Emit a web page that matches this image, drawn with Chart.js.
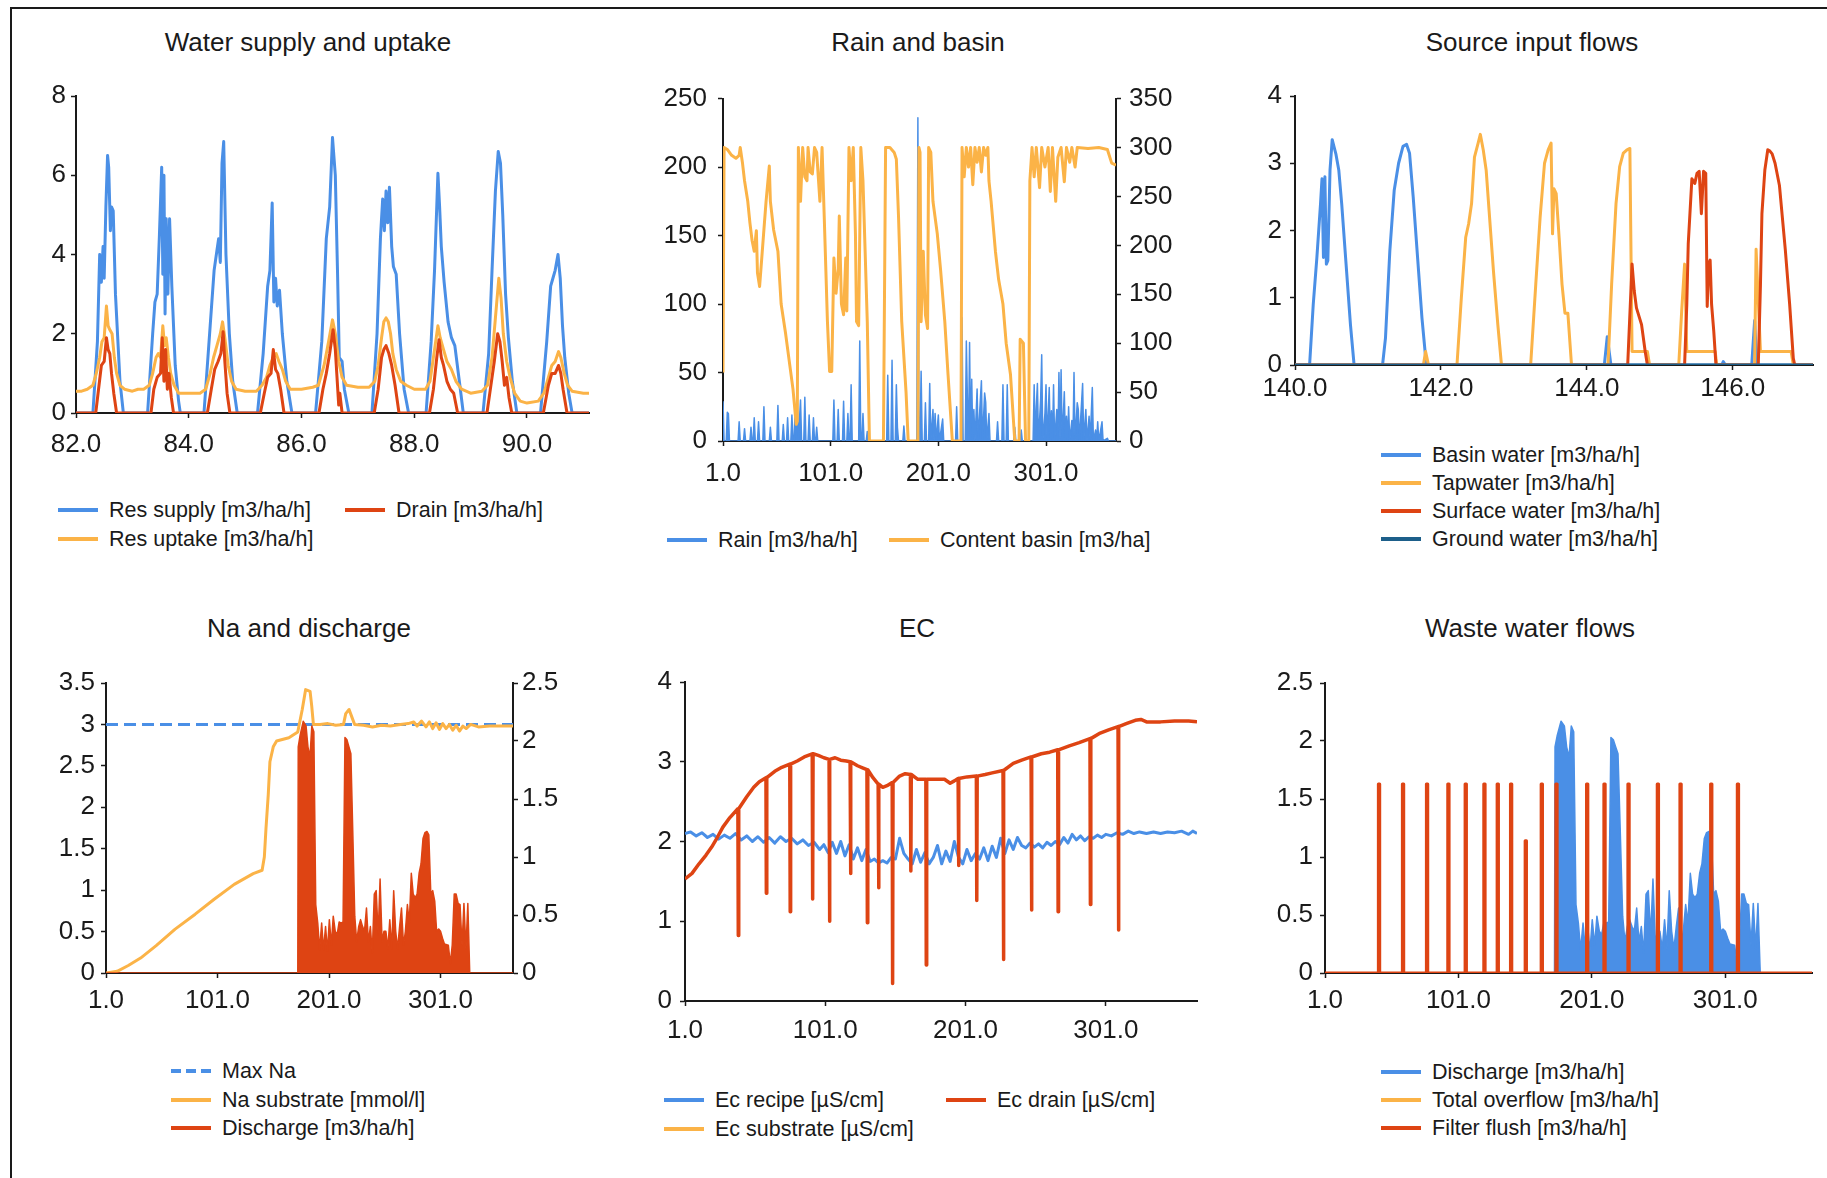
<!DOCTYPE html>
<html>
<head>
<meta charset="utf-8">
<title>Greenhouse water balance</title>
<script src="https://cdn.jsdelivr.net/npm/chart.js@4.4.1/dist/chart.umd.min.js"></script>
<style>
  html, body { margin: 0; padding: 0; background: #ffffff; }
  body { width: 1827px; height: 1178px; position: relative; overflow: hidden;
         font-family: "Liberation Sans", Arial, sans-serif; color: #1a1a1a; }
  .frame { position: absolute; left: 10px; top: 7px; right: -4px; bottom: -4px;
           border-left: 2px solid #1a1a1a; border-top: 2px solid #1a1a1a; }
  canvas { position: absolute; }
  .title { position: absolute; width: 600px; text-align: center; font-size: 26px;
           line-height: 30px; white-space: nowrap; color: #1a1a1a; }
  .lg-line { position: absolute; height: 4px; }
  .lg-text { position: absolute; font-size: 21.5px; line-height: 28px; white-space: nowrap; color: #1a1a1a; }
</style>
</head>
<body>
<div class="frame"></div>
<script>
const FONT = '"Liberation Sans", Arial, sans-serif';
const BLUE = '#4a8fe6', ORANGE = '#fbb347', RED = '#de4413', TEAL = '#1d5f8a';

// ---------- Water supply and uptake (day, m3/ha/h) ----------
const resSupply = [
  [82.00,0],[82.30,0],[82.38,1.8],[82.42,4.0],[82.45,3.3],[82.48,4.2],[82.50,3.4],[82.53,5.2],[82.56,6.5],[82.58,6.2],[82.61,4.6],[82.63,5.2],[82.66,5.1],[82.70,3.0],[82.78,0.8],[82.84,0],
  [83.27,0],[83.36,2.0],[83.40,2.8],[83.44,3.0],[83.48,4.5],[83.52,6.2],[83.54,3.5],[83.56,6.0],[83.58,2.5],[83.60,4.9],[83.63,3.0],[83.66,4.9],[83.70,3.2],[83.76,1.2],[83.82,0.3],[83.85,0],
  [84.27,0],[84.38,2.2],[84.45,3.6],[84.50,4.1],[84.53,4.4],[84.56,3.8],[84.59,6.3],[84.62,6.85],[84.66,4.0],[84.72,2.0],[84.78,0.8],[84.86,0],
  [85.22,0],[85.32,1.5],[85.40,3.2],[85.44,3.6],[85.48,5.3],[85.51,2.8],[85.54,3.4],[85.57,2.7],[85.61,3.1],[85.66,2.0],[85.74,0.8],[85.83,0],
  [86.25,0],[86.36,1.8],[86.44,4.4],[86.50,5.2],[86.55,6.95],[86.60,6.0],[86.64,3.5],[86.67,1.4],[86.72,1.3],[86.76,0.6],[86.84,0],
  [87.25,0],[87.34,2.0],[87.40,4.4],[87.44,5.4],[87.47,4.6],[87.50,5.6],[87.53,4.8],[87.56,5.7],[87.60,4.2],[87.63,3.7],[87.68,3.5],[87.74,2.0],[87.82,0.6],[87.90,0],
  [88.21,0],[88.30,1.8],[88.36,3.6],[88.42,6.05],[88.45,5.2],[88.48,4.2],[88.53,3.3],[88.60,2.3],[88.66,1.9],[88.72,1.7],[88.80,0.8],[88.87,0],
  [89.22,0],[89.32,1.5],[89.38,3.6],[89.44,5.6],[89.49,6.6],[89.53,6.3],[89.57,5.0],[89.62,3.0],[89.67,1.9],[89.74,0.8],[89.82,0],
  [90.24,0],[90.35,1.8],[90.42,3.2],[90.46,3.4],[90.50,3.6],[90.55,4.0],[90.59,3.4],[90.63,2.2],[90.67,1.4],[90.74,0.5],[90.80,0],[91.10,0]
];
const resUptake = [
  [82.00,0.55],[82.10,0.55],[82.20,0.6],[82.30,0.7],[82.36,1.0],[82.42,1.4],[82.46,1.8],[82.50,1.9],[82.54,2.7],[82.57,2.2],[82.60,2.1],[82.64,2.0],[82.68,1.4],[82.72,1.0],[82.78,0.7],[82.86,0.6],[83.00,0.55],[83.10,0.6],[83.20,0.6],[83.30,0.7],
  [83.36,1.0],[83.42,1.4],[83.46,1.5],[83.50,1.4],[83.54,2.2],[83.57,1.7],[83.60,1.9],[83.64,1.4],[83.68,1.0],[83.74,0.7],[83.82,0.5],[84.00,0.5],[84.20,0.5],[84.30,0.6],
  [84.38,1.0],[84.44,1.4],[84.50,1.7],[84.56,2.0],[84.60,2.3],[84.64,1.9],[84.70,1.2],[84.76,0.8],[84.84,0.6],[85.00,0.55],[85.20,0.55],[85.30,0.7],
  [85.38,0.9],[85.44,1.2],[85.50,1.4],[85.55,1.5],[85.60,1.3],[85.66,1.1],[85.72,0.8],[85.80,0.6],[86.00,0.6],[86.20,0.65],[86.30,0.7],
  [86.40,1.2],[86.48,1.8],[86.55,2.35],[86.60,2.0],[86.66,1.3],[86.72,0.9],[86.80,0.7],[87.00,0.65],[87.20,0.65],[87.30,0.8],
  [87.36,1.2],[87.42,1.9],[87.46,2.3],[87.50,2.4],[87.54,2.3],[87.58,2.0],[87.62,1.5],[87.68,1.1],[87.76,0.8],[87.86,0.7],[88.00,0.6],[88.20,0.6],[88.28,0.8],
  [88.36,1.6],[88.42,2.2],[88.46,1.9],[88.52,1.6],[88.58,1.3],[88.66,1.1],[88.74,0.8],[88.84,0.6],[89.00,0.5],[89.20,0.55],[89.30,0.7],
  [89.38,1.4],[89.44,2.4],[89.50,3.4],[89.54,2.9],[89.58,2.0],[89.64,1.3],[89.70,0.9],[89.78,0.5],[89.88,0.3],[90.00,0.25],[90.20,0.3],[90.30,0.5],
  [90.38,0.9],[90.44,1.2],[90.50,1.3],[90.56,1.55],[90.60,1.4],[90.66,1.0],[90.72,0.7],[90.80,0.55],[91.00,0.5],[91.10,0.5]
];
const drain = [
  [82.00,0],[82.35,0],[82.40,0.6],[82.45,1.2],[82.50,1.3],[82.54,1.9],[82.57,1.6],[82.60,1.5],[82.63,1.0],[82.67,0.5],[82.72,0],
  [83.33,0],[83.38,0.6],[83.44,0.9],[83.50,1.0],[83.53,1.9],[83.56,0.8],[83.59,1.6],[83.62,0.6],[83.65,1.0],[83.69,0.4],[83.73,0],
  [84.33,0],[84.40,0.6],[84.46,1.1],[84.52,1.3],[84.57,1.5],[84.61,2.05],[84.64,1.3],[84.68,0.5],[84.73,0],
  [85.27,0],[85.34,0.5],[85.40,0.9],[85.46,1.0],[85.50,1.6],[85.54,1.1],[85.58,1.0],[85.63,0.6],[85.69,0],
  [86.31,0],[86.38,0.6],[86.44,1.0],[86.50,1.5],[86.56,2.1],[86.60,1.6],[86.63,0.9],[86.66,0.2],[86.68,0.5],[86.72,0],
  [87.29,0],[87.36,0.6],[87.42,1.4],[87.46,1.6],[87.50,1.7],[87.55,1.5],[87.60,1.2],[87.66,0.7],[87.73,0],
  [88.27,0],[88.34,0.6],[88.40,1.4],[88.44,1.85],[88.48,1.4],[88.52,1.2],[88.58,0.8],[88.64,0.6],[88.70,0.5],[88.77,0],
  [89.29,0],[89.36,0.7],[89.42,1.3],[89.48,2.0],[89.52,1.8],[89.56,1.3],[89.60,0.7],[89.64,0.9],[89.68,0.4],[89.73,0],
  [90.29,0],[90.38,0.7],[90.44,1.0],[90.50,1.0],[90.56,1.2],[90.60,1.0],[90.64,0.6],[90.71,0],[91.10,0]
];

// ---------- Rain and basin (day of year) ----------
const rain = [
  [1,29],[2,0],[4,0],[5,21],[6,20],[7,0],[15,0],[16,14],[17,0],[20,0],[21,9],[22,0],[26,0],[27,10],[28,0],[29,0],[30,17],[31,0],[33,0],[34,14],[35,0],
  [38,0],[39,25],[40,0],[44,0],[45,10],[46,0],[51,0],[52,26],[53,0],[56,0],[57,12],[58,0],[60,0],[61,17],[62,0],[64,0],[65,19],[66,0],[67,0],[68,23],[69,0],
  [70,28],[71,0],[73,30],[74,0],[76,0],[77,32],[78,0],[80,0],[81,19],[82,0],[84,0],[85,17],[86,0],[87,0],[88,10],[89,0],
  [103,0],[104,30],[105,0],[107,0],[108,23],[109,0],[112,0],[113,29],[114,0],[116,0],[117,20],[118,0],[119,0],[120,41],[121,0],[127,0],[128,73],[129,0],
  [130,0],[131,20],[132,0],[134,0],[135,7],[136,0],[153,0],[154,48],[155,0],[157,0],[158,59],[159,0],[161,0],[162,41],[163,10],[164,0],[168,0],[169,11],[170,0],
  [181,0],[182,236],[183,0],[184,0],[185,51],[186,0],[188,0],[189,28],[190,0],[192,0],[193,42],[194,0],[196,23],[197,0],[198,20],[199,0],[201,19],[202,0],[205,16],[206,0],
  [217,0],[218,25],[219,0],[222,0],[223,90],[224,0],[226,0],[227,73],[228,30],[229,0],[230,72],[231,0],[232,45],[233,0],[234,23],[235,0],[236,18],[237,38],[238,0],
  [240,30],[241,44],[242,0],[244,35],[245,28],[246,0],[248,20],[249,0],[255,0],[256,14],[257,0],[260,0],[261,41],[262,0],[264,0],[265,41],[266,0],
  [271,0],[272,10],[273,0],[277,0],[278,8],[279,0],[289,0],[290,41],[291,0],[292,25],[293,42],[294,0],[296,30],[297,63],[298,0],[300,20],[301,41],[302,0],
  [304,39],[305,0],[306,22],[307,0],[308,41],[309,0],[311,23],[312,0],[313,50],[314,0],[315,52],[316,0],[318,36],[319,0],[320,18],[321,0],[322,25],[323,0],
  [325,15],[326,0],[327,50],[328,0],[330,28],[331,23],[332,0],[335,42],[336,0],[337,12],[338,23],[339,0],[341,18],[342,0],[344,39],[345,0],[347,8],[348,0],
  [349,14],[350,0],[353,14],[354,0],[358,2],[359,0],[366,0]
];
const contentBasin = [
  [1,70],[2,300],[5,298],[9,292],[13,289],[16,292],[17,300],[19,285],[21,266],[24,245],[26,223],[28,205],[30,194],[32,215],[33,172],[35,158],[37,187],[39,216],
  [41,245],[44,281],[45,245],[48,216],[52,194],[55,140],[59,111],[62,86],[66,53],[69,17],[70,20],[71,300],[73,245],[75,300],[77,270],[79,266],[80,300],
  [82,275],[84,273],[86,300],[88,295],[91,245],[93,300],[95,230],[98,122],[100,71],[102,71],[104,187],[106,151],[108,176],[109,230],[111,140],[113,129],
  [115,187],[116,133],[118,300],[120,266],[122,300],[124,212],[125,122],[127,118],[129,300],[131,266],[133,194],[135,122],[137,0],[150,0],[152,300],
  [156,300],[160,295],[162,288],[164,230],[167,122],[171,50],[173,0],[182,0],[183,300],[184,295],[185,122],[187,194],[189,129],[191,115],[192,300],
  [194,295],[196,245],[200,212],[203,176],[207,122],[210,68],[214,0],[222,0],[223,300],[225,270],[227,300],[229,280],[231,300],[233,262],[235,300],
  [237,285],[239,300],[241,275],[243,300],[245,292],[247,300],[248,266],[250,245],[254,194],[257,165],[261,140],[264,100],[268,68],[272,0],[276,0],
  [277,104],[280,100],[282,0],[285,0],[286,266],[288,300],[290,270],[292,300],[295,259],[297,300],[300,280],[303,300],[305,255],[307,300],[310,245],
  [312,290],[315,300],[318,265],[320,300],[323,285],[325,300],[328,280],[330,300],[340,299],[350,300],[358,298],[362,284],[366,282]
];

// ---------- Source input flows (day, m3/ha/h) ----------
const basinWater = [
  [140.00,0],[140.20,0],[140.25,0.9],[140.30,1.6],[140.35,2.4],[140.37,2.77],[140.39,1.6],[140.41,2.8],[140.43,1.5],[140.45,1.55],[140.48,2.9],[140.51,3.35],
  [140.56,3.14],[140.60,2.9],[140.64,2.4],[140.70,1.5],[140.76,0.6],[140.81,0],
  [141.20,0],[141.24,0.4],[141.30,1.7],[141.36,2.6],[141.42,3.0],[141.48,3.25],[141.53,3.28],[141.57,3.15],[141.62,2.5],[141.68,1.6],[141.74,0.7],[141.80,0],
  [144.24,0],[144.28,0.42],[144.33,0],[145.85,0],[145.87,0.05],[145.90,0],[146.26,0],[146.30,0.66],[146.33,0],[147.10,0]
];
const tapwater = [
  [140.00,0],[141.76,0],[141.79,0.2],[141.83,0],
  [142.22,0],[142.28,1.0],[142.34,1.9],[142.38,2.1],[142.42,2.4],[142.46,3.09],[142.51,3.3],[142.54,3.43],[142.58,3.2],[142.62,2.9],[142.66,2.3],[142.72,1.4],[142.78,0.6],[142.83,0],
  [143.23,0],[143.30,1.2],[143.36,2.2],[143.42,3.0],[143.47,3.2],[143.51,3.3],[143.53,1.95],[143.55,2.62],[143.58,2.55],[143.62,1.9],[143.66,1.2],[143.70,0.77],[143.74,0.77],[143.79,0],
  [144.29,0],[144.34,1.2],[144.40,2.4],[144.45,2.95],[144.50,3.15],[144.55,3.2],[144.59,3.22],[144.61,1.2],[144.62,0.2],[144.83,0.2],[144.86,0],
  [145.26,0],[145.30,0.8],[145.34,1.5],[145.37,0.2],[145.76,0.2],[145.78,0],
  [146.30,0],[146.32,1.72],[146.38,0.2],[146.80,0.2],[146.83,0],[147.10,0]
];
const surfaceWater = [
  [140.00,0],[144.56,0],[144.62,1.5],[144.65,1.1],[144.68,0.85],[144.75,0.6],[144.80,0.2],[144.83,0],
  [145.34,0],[145.37,0.9],[145.39,1.8],[145.44,2.77],[145.48,2.7],[145.51,2.85],[145.54,2.88],[145.57,2.25],[145.60,2.88],[145.63,2.85],[145.65,0.87],
  [145.67,1.5],[145.69,1.56],[145.71,0.9],[145.74,0.5],[145.77,0],
  [146.35,0],[146.38,1.2],[146.40,2.25],[146.44,2.9],[146.48,3.2],[146.51,3.18],[146.54,3.14],[146.58,3.0],[146.64,2.67],[146.72,1.72],[146.78,0.9],[146.83,0.1],[146.85,0],[147.10,0]
];
const groundWater = [[140.0,0],[147.1,0]];

// ---------- Na and discharge ----------
const maxNa = [[1,3],[366,3]];
const naSubstrate = [
  [1,0],[11,0.02],[21,0.09],[32,0.18],[46,0.33],[63,0.53],[81,0.71],[98,0.89],[116,1.07],[133,1.2],[141,1.24],[143,1.4],[144.5,1.75],[146.5,2.15],[148,2.55],
  [151,2.73],[154,2.8],[165,2.84],[173,2.91],[177,3.18],[180,3.42],[184,3.4],[185.5,3.22],[187,3.0],[193,3.0],[200,3.01],[207,2.99],[214,3.0],[216,3.13],
  [219,3.18],[222,3.07],[224,3.0],[232,2.99],[240,2.97],[248,2.99],[256,2.98],[265,3.0],[272,3.01],[277,3.03],[280,2.98],[284,3.04],[288,2.97],[291,3.03],
  [294,2.95],[297,3.02],[300,2.94],[303,3.01],[306,2.95],[309,3.0],[312,2.93],[315,2.99],[318,2.92],[321,2.98],[324,2.95],[328,3.0],[335,2.97],[345,2.98],
  [355,2.98],[366,2.98]
];
const discharge = [
  [1,0],[173,0],[173.4,1.95],[175.1,2.05],[177.9,2.17],[180.4,2.13],[182.1,1.95],[183.9,1.86],[185.6,2.13],[187.4,2.08],[189.1,0.59],[190.9,0.43],[192.6,0.2],
  [194.4,0.43],[196.1,0.2],[197.9,0.4],[199.6,0.19],[201.3,0.46],[203.1,0.24],[204.8,0.49],[206.6,0.36],[208.3,0.33],[210.1,0.44],[211.8,0.43],[213.6,0.44],
  [215.3,2.03],[217.1,2.01],[218.8,1.95],[220.6,1.89],[222.3,1.22],[224.1,0.49],[225.8,0.27],[227.6,0.4],[229.3,0.46],[231.1,0.4],[232.8,0.36],[234.6,0.56],
  [236.3,0.27],[238.1,0.4],[239.8,0.17],[241.6,0.68],[243.3,0.71],[245.1,0.33],[246.8,0.81],[248.6,0.27],[250.3,0.36],[252.0,0.36],[253.8,0.21],[255.5,0.46],
  [257.3,0.21],[259.0,0.71],[260.8,0.36],[262.5,0.21],[264.3,0.4],[266.0,0.56],[267.8,0.24],[269.5,0.36],[271.3,0.59],[273.0,0.43],[274.8,0.86],[276.5,0.68],
  [278.3,0.65],[280.0,0.68],[281.8,0.86],[283.5,0.94],[285.3,1.16],[287.0,1.21],[288.8,1.22],[290.5,1.19],[292.3,0.68],[294.0,0.71],[295.8,0.62],[297.5,0.36],
  [299.3,0.38],[301.0,0.36],[302.8,0.3],[304.5,0.25],[308.0,0.24],[309.8,0.08],[311.5,0.24],[313.3,0.68],[315.0,0.68],[316.8,0.6],[318.5,0.59],[320.3,0.24],
  [322.0,0.6],[323.8,0.21],[325.5,0.6],[327.2,0],[366,0]
];

// ---------- EC ----------
const ecRecipe = [
  [1,2.1],[5,2.12],[9,2.07],[13,2.11],[17,2.05],[21,2.09],[25,2.03],[29,2.08],[33,2.04],[37,2.1],[41,2.02],[45,2.07],[49,2.0],[53,2.06],[57,1.99],[61,2.05],
  [65,1.98],[69,2.06],[73,2.0],[77,2.04],[81,1.97],[85,2.02],[89,1.95],[93,1.99],[97,1.9],[100,1.96],[103,1.86],[106,1.99],[109,1.85],[112,2.0],[115,1.82],
  [118,1.96],[121,1.78],[124,1.92],[127,1.76],[130,1.9],[133,1.75],[136,1.78],[139,1.73],[142,1.76],[145,1.73],[148,1.8],[151,1.78],[154,2.04],[157,1.85],
  [160,1.78],[163,1.72],[166,1.9],[169,1.74],[172,1.86],[175,1.72],[178,1.8],[181,1.95],[184,1.72],[187,1.88],[190,1.75],[193,2.0],[196,1.8],[199,1.72],
  [202,1.9],[205,1.76],[208,1.85],[211,1.78],[214,1.92],[217,1.76],[220,1.94],[223,1.8],[226,2.04],[229,1.85],[232,2.02],[235,1.9],[238,2.05],[241,1.95],
  [244,1.92],[247,1.98],[250,1.93],[253,1.97],[256,1.92],[259,1.99],[262,1.95],[265,2.0],[268,1.96],[271,2.05],[274,1.98],[277,2.09],[280,2.02],[283,2.07],
  [286,2.01],[289,2.06],[292,2.04],[295,2.08],[298,2.05],[301,2.09],[305,2.07],[309,2.11],[313,2.09],[317,2.13],[321,2.1],[325,2.12],[330,2.1],[335,2.12],
  [340,2.1],[345,2.12],[350,2.11],[355,2.13],[360,2.09],[363,2.13],[366,2.1]
];
const ecSubstrate = [];
const ecDrain = [
  [1,1.53],[6,1.6],[11,1.72],[16,1.83],[20,1.93],[24,2.05],[28,2.18],[33,2.3],[38.7,2.41],[39,0.82],[39.3,2.41],[45,2.56],[50,2.68],[54,2.75],[58.7,2.8],
  [59,1.35],[59.3,2.8],[65,2.88],[70,2.93],[75.7,2.97],[76,1.12],[76.3,2.97],[81,3.01],[86,3.06],[91.7,3.1],[92,1.28],[92.3,3.1],[96,3.08],[100,3.05],
  [103.7,3.03],[104,1.0],[104.3,3.03],[108,3.05],[112,3.02],[116,3.01],[118.7,3.0],[119,1.6],[119.3,3.0],[124,2.95],[128,2.92],[130.7,2.9],[131,0.98],
  [131.3,2.9],[135,2.8],[138.7,2.72],[139,1.42],[139.3,2.72],[142,2.68],[145,2.7],[148.7,2.74],[149,0.22],[149.3,2.74],[154,2.82],[158,2.85],[161.7,2.84],
  [162,1.63],[162.3,2.84],[167,2.78],[172.7,2.78],[173,0.45],[173.3,2.78],[180,2.78],[186,2.78],[190,2.73],[193,2.76],[195.7,2.79],[196,1.7],[196.3,2.79],
  [202,2.81],[208.7,2.82],[209,1.26],[209.3,2.82],[215,2.84],[220,2.86],[227.7,2.89],[228,0.52],[228.3,2.89],[235,2.98],[241,3.02],[247.7,3.06],[248,1.14],
  [248.3,3.06],[255,3.1],[261,3.12],[266.7,3.15],[267,1.12],[267.3,3.15],[275,3.2],[282,3.24],[289.7,3.29],[290,1.21],[290.3,3.29],[297,3.36],[303,3.4],
  [309.7,3.44],[310,0.89],[310.3,3.44],[316,3.48],[322,3.52],[326,3.53],[330,3.5],[340,3.5],[350,3.51],[360,3.51],[366,3.5]
];

// ---------- Waste water flows ----------
const totalOverflow = [];
const filterFlush = [
  [1,0],[41,0],[41,1.63],[42,1.63],[42,0],[59,0],[59,1.63],[60,1.63],[60,0],[77,0],[77,1.63],[78,1.63],[78,0],[93,0],[93,1.63],[94,1.63],[94,0],
  [106,0],[106,1.63],[107,1.63],[107,0],[120,0],[120,1.63],[121,1.63],[121,0],[130,0],[130,1.63],[131,1.63],[131,0],[140,0],[140,1.63],[141,1.63],[141,0],
  [151,0],[151,1.14],[152,1.14],[152,0],[163,0],[163,1.63],[164,1.63],[164,0],[174,0],[174,1.63],[175,1.63],[175,0],[197,0],[197,1.63],[198,1.63],[198,0],
  [210,0],[210,1.63],[211,1.63],[211,0],[228,0],[228,1.63],[229,1.63],[229,0],[250,0],[250,1.63],[251,1.63],[251,0],[267,0],[267,1.63],[268,1.63],[268,0],
  [290,0],[290,1.63],[291,1.63],[291,0],[310,0],[310,1.63],[311,1.63],[311,0],[366,0]
];

// ---------- Tick values ----------
const ticksDays = [1, 101, 201, 301];
const ticksSupplyX = [82, 84, 86, 88, 90];
const ticksSupplyY = [0, 2, 4, 6, 8];
const ticksRain = [0, 50, 100, 150, 200, 250];
const ticksBasin = [0, 50, 100, 150, 200, 250, 300, 350];
const ticksSourceX = [140, 142, 144, 146];
const ticksSourceY = [0, 1, 2, 3, 4];
const ticksNa = [0, 0.5, 1, 1.5, 2, 2.5, 3, 3.5];
const ticksHalf25 = [0, 0.5, 1, 1.5, 2, 2.5];
const ticksEc = [0, 1, 2, 3, 4];

const fmtX = v => v.toFixed(1);
const fmtY = v => String(v);

// ---------- helpers ----------
function axis(position, a, size) {
  return {
    type: 'linear', position, min: a.min, max: a.max,
    afterBuildTicks: s => { s.ticks = a.ticks.map(v => ({ value: v })); },
    afterFit: s => { if (position === 'bottom') s.height = size; else s.width = size; },
    ticks: { autoSkip: false, maxRotation: 0, minRotation: 0, padding: a.pad, color: '#1a1a1a',
             font: { family: FONT, size: 26 }, callback: a.fmt },
    grid: { display: true, drawOnChartArea: false, drawTicks: true, tickLength: 5,
            tickWidth: 1.5, color: '#1a1a1a' },
    border: { display: true, color: '#1a1a1a', width: 2 }
  };
}

function series(data, color, extra) {
  return Object.assign({ data, borderColor: color, backgroundColor: color, borderWidth: 3,
                         pointRadius: 0, fill: false }, extra || {});
}

function makeChart(area, opt) {
  const padT = 24, padB = 4, padL = 4, padR = 8, WY = 70, WR = opt.y1 ? 70 : 0, HX = 60;
  const cv = document.createElement('canvas');
  const w = (area.r - area.l) + padL + WY + WR + padR;
  const h = (area.b - area.t) + padT + HX + padB;
  cv.width = w; cv.height = h;
  cv.style.left = (area.l - padL - WY) + 'px';
  cv.style.top = (area.t - padT) + 'px';
  cv.style.width = w + 'px';
  cv.style.height = h + 'px';
  document.body.appendChild(cv);
  const scales = { x: axis('bottom', opt.x, HX), y: axis('left', opt.y, WY) };
  if (opt.y1) scales.y1 = axis('right', opt.y1, WR);
  new Chart(cv, {
    type: 'line',
    data: { datasets: opt.datasets },
    options: {
      responsive: false, maintainAspectRatio: false, animation: false, devicePixelRatio: 1,
      events: [],
      layout: { padding: { top: padT, bottom: padB, left: padL, right: padR } },
      plugins: { legend: { display: false }, title: { display: false }, tooltip: { enabled: false } },
      elements: { point: { radius: 0 }, line: { tension: 0, borderJoinStyle: 'round' } },
      scales
    }
  });
}

function addTitle(text, cx, cy) {
  const d = document.createElement('div');
  d.className = 'title';
  d.textContent = text;
  d.style.left = (cx - 300) + 'px';
  d.style.top = (cy - 15) + 'px';
  document.body.appendChild(d);
}

function addLegend(text, color, x, y, dashed) {
  const ln = document.createElement('div');
  ln.className = 'lg-line';
  ln.style.left = x + 'px';
  ln.style.top = (y - 2) + 'px';
  ln.style.width = '40px';
  ln.style.background = dashed
    ? 'repeating-linear-gradient(to right,' + color + ' 0 10px, transparent 10px 15px)'
    : color;
  document.body.appendChild(ln);
  const t = document.createElement('div');
  t.className = 'lg-text';
  t.textContent = text;
  t.style.left = (x + 51) + 'px';
  t.style.top = (y - 14) + 'px';
  document.body.appendChild(t);
}

// ---------- Water supply and uptake ----------
addTitle('Water supply and uptake', 308, 42);
makeChart({ l: 76, t: 96, r: 589, b: 413 }, {
  x: { min: 82, max: 91.1, ticks: ticksSupplyX, fmt: fmtX, pad: 11 },
  y: { min: 0, max: 8, ticks: ticksSupplyY, fmt: fmtY, pad: 5 },
  datasets: [
    series(drain, RED, { order: 0 }),
    series(resUptake, ORANGE, { order: 1 }),
    series(resSupply, BLUE, { order: 2 })
  ]
});
addLegend('Res supply [m3/ha/h]', BLUE, 58, 510);
addLegend('Drain [m3/ha/h]', RED, 345, 510);
addLegend('Res uptake [m3/ha/h]', ORANGE, 58, 539);

// ---------- Rain and basin ----------
addTitle('Rain and basin', 918, 42);
makeChart({ l: 723, t: 96, r: 1116, b: 441 }, {
  x: { min: 1, max: 366, ticks: ticksDays, fmt: fmtX, pad: 12 },
  y: { min: 0, max: 250, ticks: ticksRain, fmt: fmtY, pad: 11 },
  y1: { min: 0, max: 350, ticks: ticksBasin, fmt: fmtY, pad: 8 },
  datasets: [
    series(contentBasin, ORANGE, { yAxisID: 'y1', order: 0 }),
    series(rain, BLUE, { yAxisID: 'y', order: 1, fill: 'origin', borderWidth: 1.5 })
  ]
});
addLegend('Rain [m3/ha/h]', BLUE, 667, 540);
addLegend('Content basin [m3/ha]', ORANGE, 889, 540);

// ---------- Source input flows ----------
addTitle('Source input flows', 1532, 42);
makeChart({ l: 1295, t: 96, r: 1813, b: 365 }, {
  x: { min: 140, max: 147.1, ticks: ticksSourceX, fmt: fmtX, pad: 3 },
  y: { min: 0, max: 4, ticks: ticksSourceY, fmt: fmtY, pad: 8 },
  datasets: [
    series(groundWater, TEAL, { order: 0 }),
    series(surfaceWater, RED, { order: 1 }),
    series(tapwater, ORANGE, { order: 2 }),
    series(basinWater, BLUE, { order: 3 })
  ]
});
addLegend('Basin water [m3/ha/h]', BLUE, 1381, 455);
addLegend('Tapwater [m3/ha/h]', ORANGE, 1381, 483);
addLegend('Surface water [m3/ha/h]', RED, 1381, 511);
addLegend('Ground water [m3/ha/h]', TEAL, 1381, 539);

// ---------- Na and discharge ----------
addTitle('Na and discharge', 309, 628);
makeChart({ l: 106, t: 683, r: 513, b: 973 }, {
  x: { min: 1, max: 366, ticks: ticksDays, fmt: fmtX, pad: 7 },
  y: { min: 0, max: 3.5, ticks: ticksNa, fmt: fmtY, pad: 6 },
  y1: { min: 0, max: 2.5, ticks: ticksHalf25, fmt: fmtY, pad: 4 },
  datasets: [
    series(discharge, RED, { yAxisID: 'y1', order: 0, fill: 'origin', borderWidth: 1.5 }),
    series(naSubstrate, ORANGE, { yAxisID: 'y', order: 1 }),
    series(maxNa, BLUE, { yAxisID: 'y', order: 2, borderDash: [12, 6] })
  ]
});
addLegend('Max Na', BLUE, 171, 1071, true);
addLegend('Na substrate [mmol/l]', ORANGE, 171, 1100);
addLegend('Discharge [m3/ha/h]', RED, 171, 1128);

// ---------- EC ----------
addTitle('EC', 917, 628);
makeChart({ l: 685, t: 682, r: 1197, b: 1001 }, {
  x: { min: 1, max: 366, ticks: ticksDays, fmt: fmtX, pad: 9 },
  y: { min: 0, max: 4, ticks: ticksEc, fmt: fmtY, pad: 8 },
  datasets: [
    series(ecDrain, RED, { order: 0, borderWidth: 3.5 }),
    series(ecSubstrate, ORANGE, { order: 1 }),
    series(ecRecipe, BLUE, { order: 2 })
  ]
});
addLegend('Ec recipe [µS/cm]', BLUE, 664, 1100);
addLegend('Ec drain [µS/cm]', RED, 946, 1100);
addLegend('Ec substrate [µS/cm]', ORANGE, 664, 1129);

// ---------- Waste water flows ----------
addTitle('Waste water flows', 1530, 628);
makeChart({ l: 1325, t: 683, r: 1812, b: 973 }, {
  x: { min: 1, max: 366, ticks: ticksDays, fmt: fmtX, pad: 7 },
  y: { min: 0, max: 2.5, ticks: ticksHalf25, fmt: fmtY, pad: 7 },
  datasets: [
    series(filterFlush, RED, { order: 0 }),
    series(totalOverflow, ORANGE, { order: 1 }),
    series(discharge, BLUE, { order: 2, fill: 'origin', borderWidth: 1.5 })
  ]
});
addLegend('Discharge [m3/ha/h]', BLUE, 1381, 1072);
addLegend('Total overflow [m3/ha/h]', ORANGE, 1381, 1100);
addLegend('Filter flush [m3/ha/h]', RED, 1381, 1128);
</script>
</body>
</html>
